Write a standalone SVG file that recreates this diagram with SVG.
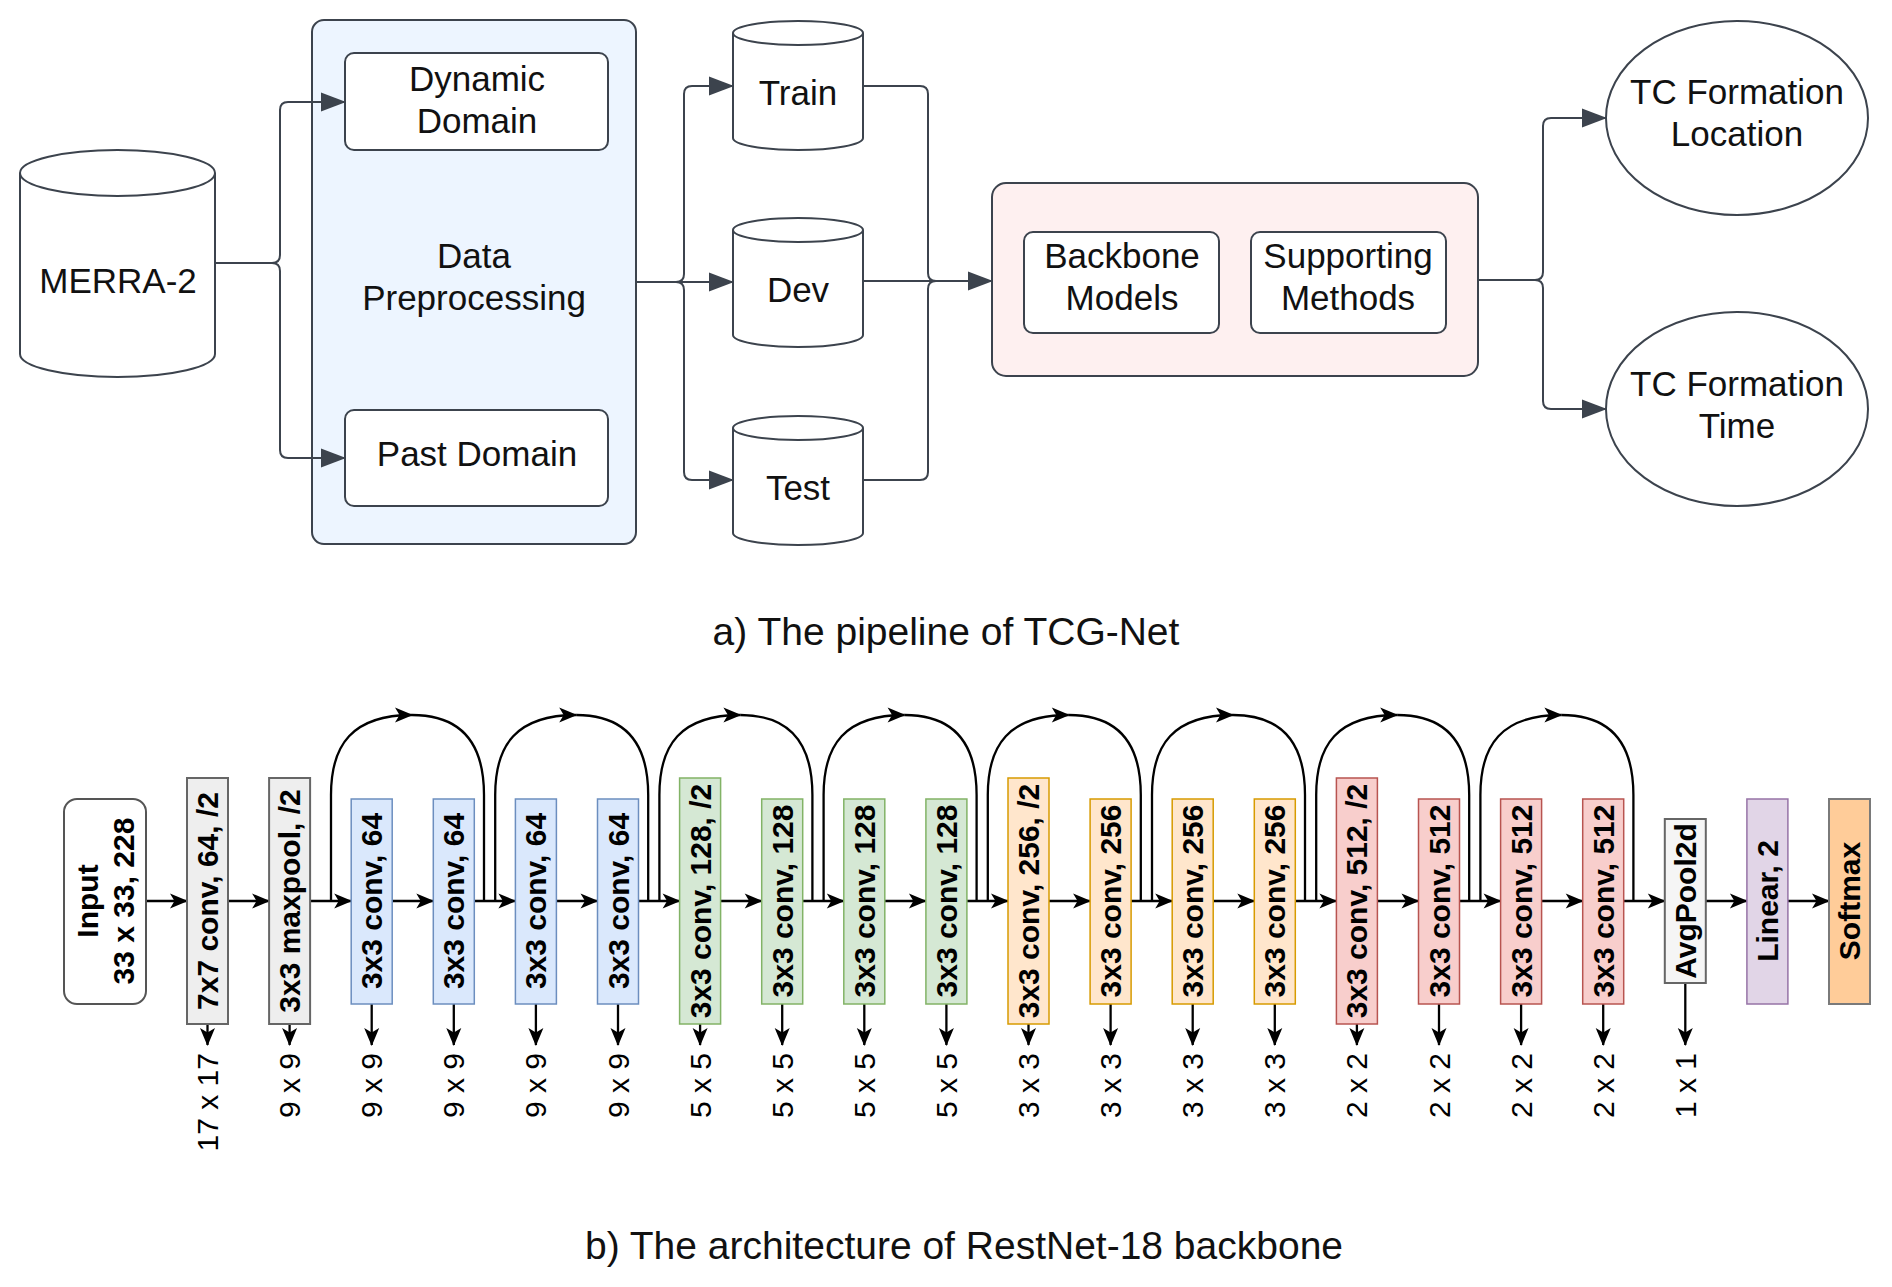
<svg xmlns="http://www.w3.org/2000/svg" width="1892" height="1287" viewBox="0 0 1892 1287">
<style>
.bg{fill:#ffffff}
.sa{stroke:#3c434d;stroke-width:2;fill:#ffffff}
.ca{stroke:#3c434d;stroke-width:2;fill:none}
.ta{font-family:"Liberation Sans",Arial,sans-serif;font-size:35px;fill:#111111;text-anchor:middle}
.cap{font-family:"Liberation Sans",Arial,sans-serif;font-size:39px;fill:#111111;text-anchor:middle}
.cb{stroke:#000000;stroke-width:2.3;fill:none}
.tb{font-family:"Liberation Sans",Arial,sans-serif;font-size:30px;font-weight:bold;fill:#000000;text-anchor:middle}
.tl{font-family:"Liberation Sans",Arial,sans-serif;font-size:30px;fill:#000000;text-anchor:end}
.gray{fill:#eeeeee;stroke:#666666;stroke-width:2}
.gray2{fill:#f5f5f5;stroke:#666666;stroke-width:2}
.blue{fill:#dae8fc;stroke:#6c8ebf;stroke-width:1.5}
.green{fill:#d5e8d4;stroke:#82b366;stroke-width:1.5}
.orange{fill:#ffe6cc;stroke:#d79b00;stroke-width:1.5}
.red{fill:#f8cecc;stroke:#b85450;stroke-width:1.5}
.purple{fill:#e1d5e7;stroke:#9673a6;stroke-width:1.5}
.soft{fill:#ffcc99;stroke:#7a7a7a;stroke-width:2}
</style>
<defs>
<marker id="ah" markerUnits="userSpaceOnUse" markerWidth="25" markerHeight="20" refX="24" refY="9.5" orient="auto" overflow="visible">
<path d="M0,0 L25,9.5 L0,19 Z" fill="#3c434d"/>
</marker>
<marker id="bh" markerUnits="userSpaceOnUse" markerWidth="18" markerHeight="16" refX="17" refY="7.5" orient="auto" overflow="visible">
<path d="M0,0 L18,7.5 L0,15 L4.5,7.5 Z" fill="#000000"/>
</marker>
</defs>
<rect class="bg" x="0" y="0" width="1892" height="1287"/>

<!-- Part a nodes -->
<g id="merra2">
<path class="sa" d="M20,173 A97.5,23 0 0,1 215,173 V354 A97.5,23 0 0,1 20,354 Z"/>
<path class="ca" d="M20,173 A97.5,23 0 0,0 215,173"/>
<text class="ta" x="118" y="293">MERRA-2</text>
</g>

<g id="data-preprocessing">
<rect x="312" y="20" width="324" height="524" rx="12" fill="#edf5ff" stroke="#3c434d" stroke-width="2"/>
<text class="ta" x="474" y="268">Data</text>
<text class="ta" x="474" y="310">Preprocessing</text>
</g>
<g id="dynamic-domain">
<rect class="sa" x="345" y="53" width="263" height="97" rx="9"/>
<text class="ta" x="477" y="91">Dynamic</text>
<text class="ta" x="477" y="133">Domain</text>
</g>
<g id="past-domain">
<rect class="sa" x="345" y="410" width="263" height="96" rx="9"/>
<text class="ta" x="477" y="466">Past Domain</text>
</g>

<g id="train">
<path class="sa" d="M733,33 A65,12 0 0,1 863,33 V138 A65,12 0 0,1 733,138 Z"/>
<path class="ca" d="M733,33 A65,12 0 0,0 863,33"/>
<text class="ta" x="798" y="105">Train</text>
</g>
<g id="dev">
<path class="sa" d="M733,230 A65,12 0 0,1 863,230 V335 A65,12 0 0,1 733,335 Z"/>
<path class="ca" d="M733,230 A65,12 0 0,0 863,230"/>
<text class="ta" x="798" y="302">Dev</text>
</g>
<g id="test">
<path class="sa" d="M733,428 A65,12 0 0,1 863,428 V533 A65,12 0 0,1 733,533 Z"/>
<path class="ca" d="M733,428 A65,12 0 0,0 863,428"/>
<text class="ta" x="798" y="500">Test</text>
</g>

<g id="model-container">
<rect x="992" y="183" width="486" height="193" rx="14" fill="#fef0f0" stroke="#3c434d" stroke-width="2"/>
</g>
<g id="backbone-models">
<rect class="sa" x="1024" y="232" width="195" height="101" rx="9"/>
<text class="ta" x="1122" y="268">Backbone</text>
<text class="ta" x="1122" y="310">Models</text>
</g>
<g id="supporting-methods">
<rect class="sa" x="1251" y="232" width="195" height="101" rx="9"/>
<text class="ta" x="1348" y="268">Supporting</text>
<text class="ta" x="1348" y="310">Methods</text>
</g>

<g id="tc-location">
<ellipse class="sa" cx="1737" cy="118" rx="131" ry="97"/>
<text class="ta" x="1737" y="104">TC Formation</text>
<text class="ta" x="1737" y="146">Location</text>
</g>
<g id="tc-time">
<ellipse class="sa" cx="1737" cy="409" rx="131" ry="97"/>
<text class="ta" x="1737" y="396">TC Formation</text>
<text class="ta" x="1737" y="438">Time</text>
</g>

<!-- Part a connectors -->
<g id="connectors-a">
<path class="ca" d="M215,263 H272 Q280,263 280,255 V110 Q280,102 288,102 H345" marker-end="url(#ah)"/>
<path class="ca" d="M272,263 Q280,263 280,271 V450 Q280,458 288,458 H345" marker-end="url(#ah)"/>
<path class="ca" d="M636,282 H676 Q684,282 684,274 V94 Q684,86 692,86 H733" marker-end="url(#ah)"/>
<path class="ca" d="M636,282 H733" marker-end="url(#ah)"/>
<path class="ca" d="M676,282 Q684,282 684,290 V472 Q684,480 692,480 H733" marker-end="url(#ah)"/>
<path class="ca" d="M863,86 H920 Q928,86 928,94 V273 Q928,281 936,281"/>
<path class="ca" d="M863,480 H920 Q928,480 928,472 V289 Q928,281 936,281"/>
<path class="ca" d="M863,281 H992" marker-end="url(#ah)"/>
<path class="ca" d="M1478,280 H1535 Q1543,280 1543,272 V126 Q1543,118 1551,118 H1606" marker-end="url(#ah)"/>
<path class="ca" d="M1535,280 Q1543,280 1543,288 V401 Q1543,409 1551,409 H1606" marker-end="url(#ah)"/>
</g>

<text class="cap" x="946" y="645">a) The pipeline of TCG-Net</text>

<!-- Part b -->
<g id="connectors-b">
<path class="cb" d="M146,901 H187" marker-end="url(#bh)"/>
<path class="cb" d="M228,901 H269.1" marker-end="url(#bh)"/>
<path class="cb" d="M310.1,901 H351.2" marker-end="url(#bh)"/>
<path class="cb" d="M392.2,901 H433.3" marker-end="url(#bh)"/>
<path class="cb" d="M474.3,901 H515.4" marker-end="url(#bh)"/>
<path class="cb" d="M556.4,901 H597.5" marker-end="url(#bh)"/>
<path class="cb" d="M638.5,901 H679.6" marker-end="url(#bh)"/>
<path class="cb" d="M720.6,901 H761.7" marker-end="url(#bh)"/>
<path class="cb" d="M802.7,901 H843.8" marker-end="url(#bh)"/>
<path class="cb" d="M884.8,901 H925.9" marker-end="url(#bh)"/>
<path class="cb" d="M966.9,901 H1008" marker-end="url(#bh)"/>
<path class="cb" d="M1049,901 H1090.1" marker-end="url(#bh)"/>
<path class="cb" d="M1131.1,901 H1172.2" marker-end="url(#bh)"/>
<path class="cb" d="M1213.2,901 H1254.3" marker-end="url(#bh)"/>
<path class="cb" d="M1295.3,901 H1336.4" marker-end="url(#bh)"/>
<path class="cb" d="M1377.4,901 H1418.5" marker-end="url(#bh)"/>
<path class="cb" d="M1459.5,901 H1500.6" marker-end="url(#bh)"/>
<path class="cb" d="M1541.6,901 H1582.7" marker-end="url(#bh)"/>
<path class="cb" d="M1623.7,901 H1664.8" marker-end="url(#bh)"/>
<path class="cb" d="M1705.8,901 H1746.9" marker-end="url(#bh)"/>
<path class="cb" d="M1787.9,901 H1829" marker-end="url(#bh)"/>
<!-- skip connections -->
<path class="cb" d="M331,901 V795 C331,745 352,715 412,715" marker-end="url(#bh)"/>
<path class="cb" d="M412,715 C463,715 484,745 484,795 V901"/>
<path class="cb" d="M495.2,901 V795 C495.2,745 516.2,715 576.2,715" marker-end="url(#bh)"/>
<path class="cb" d="M576.2,715 C627.2,715 648.2,745 648.2,795 V901"/>
<path class="cb" d="M659.4,901 V795 C659.4,745 680.4,715 740.4,715" marker-end="url(#bh)"/>
<path class="cb" d="M740.4,715 C791.4,715 812.4,745 812.4,795 V901"/>
<path class="cb" d="M823.6,901 V795 C823.6,745 844.6,715 904.6,715" marker-end="url(#bh)"/>
<path class="cb" d="M904.6,715 C955.6,715 976.6,745 976.6,795 V901"/>
<path class="cb" d="M987.8,901 V795 C987.8,745 1008.8,715 1068.8,715" marker-end="url(#bh)"/>
<path class="cb" d="M1068.8,715 C1119.8,715 1140.8,745 1140.8,795 V901"/>
<path class="cb" d="M1152,901 V795 C1152,745 1173,715 1233,715" marker-end="url(#bh)"/>
<path class="cb" d="M1233,715 C1284,715 1305,745 1305,795 V901"/>
<path class="cb" d="M1316.2,901 V795 C1316.2,745 1337.2,715 1397.2,715" marker-end="url(#bh)"/>
<path class="cb" d="M1397.2,715 C1448.2,715 1469.2,745 1469.2,795 V901"/>
<path class="cb" d="M1480.4,901 V795 C1480.4,745 1501.4,715 1561.4,715" marker-end="url(#bh)"/>
<path class="cb" d="M1561.4,715 C1612.4,715 1633.4,745 1633.4,795 V901"/>
<!-- size outputs -->
<path class="cb" d="M207.5,1024 V1045" marker-end="url(#bh)"/>
<path class="cb" d="M289.6,1024 V1045" marker-end="url(#bh)"/>
<path class="cb" d="M371.7,1004 V1045" marker-end="url(#bh)"/>
<path class="cb" d="M453.8,1004 V1045" marker-end="url(#bh)"/>
<path class="cb" d="M535.9,1004 V1045" marker-end="url(#bh)"/>
<path class="cb" d="M618,1004 V1045" marker-end="url(#bh)"/>
<path class="cb" d="M700.1,1024 V1045" marker-end="url(#bh)"/>
<path class="cb" d="M782.2,1004 V1045" marker-end="url(#bh)"/>
<path class="cb" d="M864.3,1004 V1045" marker-end="url(#bh)"/>
<path class="cb" d="M946.4,1004 V1045" marker-end="url(#bh)"/>
<path class="cb" d="M1028.5,1024 V1045" marker-end="url(#bh)"/>
<path class="cb" d="M1110.6,1004 V1045" marker-end="url(#bh)"/>
<path class="cb" d="M1192.7,1004 V1045" marker-end="url(#bh)"/>
<path class="cb" d="M1274.8,1004 V1045" marker-end="url(#bh)"/>
<path class="cb" d="M1356.9,1024 V1045" marker-end="url(#bh)"/>
<path class="cb" d="M1439,1004 V1045" marker-end="url(#bh)"/>
<path class="cb" d="M1521.1,1004 V1045" marker-end="url(#bh)"/>
<path class="cb" d="M1603.2,1004 V1045" marker-end="url(#bh)"/>
<path class="cb" d="M1685.3,983 V1045" marker-end="url(#bh)"/>
</g>

<g id="input">
<rect x="64" y="799" width="82" height="205" rx="13" fill="#ffffff" stroke="#555555" stroke-width="2"/>
<text class="tb" transform="translate(87,901) rotate(-90)" dy=".35em">Input</text>
<text class="tb" transform="translate(123,901) rotate(-90)" dy=".35em">33 x 33, 228</text>
</g>
<g id="b1"><rect class="gray" x="187" y="778" width="41" height="246"/><text class="tb" transform="translate(207.5,901) rotate(-90)" dy=".35em">7x7 conv, 64, /2</text></g>
<g id="b2"><rect class="gray" x="269.1" y="778" width="41" height="246"/><text class="tb" transform="translate(289.6,901) rotate(-90)" dy=".35em">3x3 maxpool, /2</text></g>
<g id="b3"><rect class="blue" x="351.2" y="799" width="41" height="205"/><text class="tb" transform="translate(371.7,901) rotate(-90)" dy=".35em">3x3 conv, 64</text></g>
<g id="b4"><rect class="blue" x="433.3" y="799" width="41" height="205"/><text class="tb" transform="translate(453.8,901) rotate(-90)" dy=".35em">3x3 conv, 64</text></g>
<g id="b5"><rect class="blue" x="515.4" y="799" width="41" height="205"/><text class="tb" transform="translate(535.9,901) rotate(-90)" dy=".35em">3x3 conv, 64</text></g>
<g id="b6"><rect class="blue" x="597.5" y="799" width="41" height="205"/><text class="tb" transform="translate(618,901) rotate(-90)" dy=".35em">3x3 conv, 64</text></g>
<g id="b7"><rect class="green" x="679.6" y="778" width="41" height="246"/><text class="tb" transform="translate(700.1,901) rotate(-90)" dy=".35em">3x3 conv, 128, /2</text></g>
<g id="b8"><rect class="green" x="761.7" y="799" width="41" height="205"/><text class="tb" transform="translate(782.2,901) rotate(-90)" dy=".35em">3x3 conv, 128</text></g>
<g id="b9"><rect class="green" x="843.8" y="799" width="41" height="205"/><text class="tb" transform="translate(864.3,901) rotate(-90)" dy=".35em">3x3 conv, 128</text></g>
<g id="b10"><rect class="green" x="925.9" y="799" width="41" height="205"/><text class="tb" transform="translate(946.4,901) rotate(-90)" dy=".35em">3x3 conv, 128</text></g>
<g id="b11"><rect class="orange" x="1008" y="778" width="41" height="246"/><text class="tb" transform="translate(1028.5,901) rotate(-90)" dy=".35em">3x3 conv, 256, /2</text></g>
<g id="b12"><rect class="orange" x="1090.1" y="799" width="41" height="205"/><text class="tb" transform="translate(1110.6,901) rotate(-90)" dy=".35em">3x3 conv, 256</text></g>
<g id="b13"><rect class="orange" x="1172.2" y="799" width="41" height="205"/><text class="tb" transform="translate(1192.7,901) rotate(-90)" dy=".35em">3x3 conv, 256</text></g>
<g id="b14"><rect class="orange" x="1254.3" y="799" width="41" height="205"/><text class="tb" transform="translate(1274.8,901) rotate(-90)" dy=".35em">3x3 conv, 256</text></g>
<g id="b15"><rect class="red" x="1336.4" y="778" width="41" height="246"/><text class="tb" transform="translate(1356.9,901) rotate(-90)" dy=".35em">3x3 conv, 512, /2</text></g>
<g id="b16"><rect class="red" x="1418.5" y="799" width="41" height="205"/><text class="tb" transform="translate(1439,901) rotate(-90)" dy=".35em">3x3 conv, 512</text></g>
<g id="b17"><rect class="red" x="1500.6" y="799" width="41" height="205"/><text class="tb" transform="translate(1521.1,901) rotate(-90)" dy=".35em">3x3 conv, 512</text></g>
<g id="b18"><rect class="red" x="1582.7" y="799" width="41" height="205"/><text class="tb" transform="translate(1603.2,901) rotate(-90)" dy=".35em">3x3 conv, 512</text></g>
<g id="avgpool"><rect class="gray2" x="1664.8" y="819" width="41" height="164"/><text class="tb" transform="translate(1685.3,901) rotate(-90)" dy=".35em">AvgPool2d</text></g>
<g id="linear"><rect class="purple" x="1746.9" y="799" width="41" height="205"/><text class="tb" transform="translate(1767.4,901) rotate(-90)" dy=".35em">Linear, 2</text></g>
<g id="softmax"><rect class="soft" x="1829" y="799" width="41" height="205"/><text class="tb" transform="translate(1849.5,901) rotate(-90)" dy=".35em">Softmax</text></g>

<g id="size-labels">
<text class="tl" transform="translate(207.5,1053) rotate(-90)" dy=".35em">17 x 17</text>
<text class="tl" transform="translate(289.6,1053) rotate(-90)" dy=".35em">9 x 9</text>
<text class="tl" transform="translate(371.7,1053) rotate(-90)" dy=".35em">9 x 9</text>
<text class="tl" transform="translate(453.8,1053) rotate(-90)" dy=".35em">9 x 9</text>
<text class="tl" transform="translate(535.9,1053) rotate(-90)" dy=".35em">9 x 9</text>
<text class="tl" transform="translate(618,1053) rotate(-90)" dy=".35em">9 x 9</text>
<text class="tl" transform="translate(700.1,1053) rotate(-90)" dy=".35em">5 x 5</text>
<text class="tl" transform="translate(782.2,1053) rotate(-90)" dy=".35em">5 x 5</text>
<text class="tl" transform="translate(864.3,1053) rotate(-90)" dy=".35em">5 x 5</text>
<text class="tl" transform="translate(946.4,1053) rotate(-90)" dy=".35em">5 x 5</text>
<text class="tl" transform="translate(1028.5,1053) rotate(-90)" dy=".35em">3 x 3</text>
<text class="tl" transform="translate(1110.6,1053) rotate(-90)" dy=".35em">3 x 3</text>
<text class="tl" transform="translate(1192.7,1053) rotate(-90)" dy=".35em">3 x 3</text>
<text class="tl" transform="translate(1274.8,1053) rotate(-90)" dy=".35em">3 x 3</text>
<text class="tl" transform="translate(1356.9,1053) rotate(-90)" dy=".35em">2 x 2</text>
<text class="tl" transform="translate(1439,1053) rotate(-90)" dy=".35em">2 x 2</text>
<text class="tl" transform="translate(1521.1,1053) rotate(-90)" dy=".35em">2 x 2</text>
<text class="tl" transform="translate(1603.2,1053) rotate(-90)" dy=".35em">2 x 2</text>
<text class="tl" transform="translate(1685.3,1053) rotate(-90)" dy=".35em">1 x 1</text>
</g>

<text class="cap" x="964" y="1259">b) The architecture of RestNet-18 backbone</text>
</svg>
